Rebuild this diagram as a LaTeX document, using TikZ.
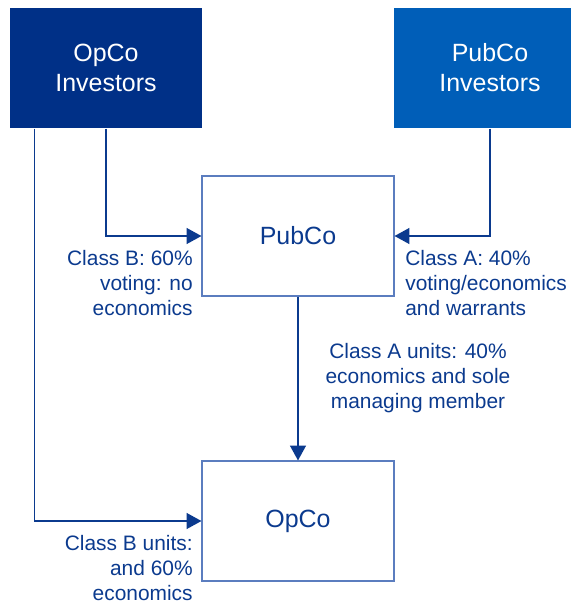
\documentclass[tikz,border=0pt]{standalone}
\usepackage{fontspec}
\setmainfont{Liberation Sans}
\usetikzlibrary{arrows.meta}

\definecolor{navyfill}{HTML}{003087}
\definecolor{pubfill}{HTML}{005EB8}
\definecolor{inkblue}{HTML}{0B3A8E}
\definecolor{edgeblue}{HTML}{5B7DBF}

\begin{document}
\begin{tikzpicture}[x=0.02cm, y=-0.02cm,
    box/.style={draw=edgeblue, line width=0.6pt, minimum width=3.84cm, minimum height=2.4cm, align=center, text=inkblue, font=\fontsize{14.2}{17}\selectfont},
    solidbox/.style={box, draw=none, text=white},
    lbl/.style={inner sep=0pt, text=inkblue, font=\fontsize{11.9}{14.2}\selectfont},
    link/.style={draw=inkblue, line width=1.1pt, -{Triangle[length=8.5pt, width=9pt]}}]
        \useasboundingbox (0,0) rectangle (571,603);
        \node[solidbox, fill=navyfill] (opinv) at (106,68) {OpCo\\Investors};
        \node[solidbox, fill=pubfill] (pubinv) at (490,68) {PubCo\\Investors};
        \node[box] (pubco) at (298,236) {PubCo};
        \node[box] (opco) at (298,521) {OpCo};
        \draw[link] (opinv.south) |- (pubco.west);
        \draw[link] (pubinv.south) |- (pubco.east);
        \draw[link] (pubco.south) -- (opco.north);
        \draw[link] ([xshift=0.5cm]opinv.south west) |- (opco.west);
        \node[lbl, anchor=east, align=right] (classb) at (193,283) {Class B: 60\%\\voting: no\\economics};
        \node[lbl, anchor=west, align=left] (classa) at (405,283) {Class A: 40\%\\voting/economics\\and warrants};
        \node[lbl, align=center] (unitsa) at (418,378) {Class A units: 40\%\\economics and sole\\managing member};
        \node[lbl, anchor=east, align=right] (unitsb) at (193,568) {Class B units:\\and 60\%\\economics};
    \end{tikzpicture}
\end{document}
